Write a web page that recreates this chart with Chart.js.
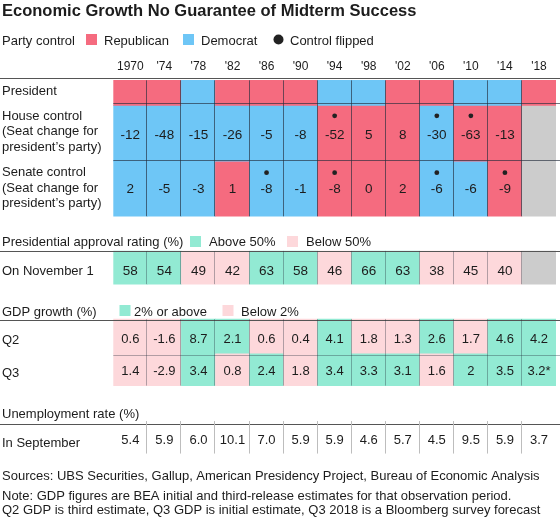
<!DOCTYPE html>
<html>
<head>
<meta charset="utf-8">
<script src="https://cdn.jsdelivr.net/npm/chart.js@4/dist/chart.umd.min.js"></script>
<style>
html, body { margin: 0; padding: 0; background: #fff; }
canvas { display: block; }
</style>
</head>
<body>
<canvas id="myChart" width="560" height="527"></canvas>
<script>
// ---- data ----
const years = ["1970", "'74", "'78", "'82", "'86", "'90", "'94", "'98", "'02", "'06", "'10", "'14", "'18"];
const presidentParty = ["R", "R", "D", "R", "R", "R", "D", "D", "R", "R", "D", "D", "R"];
const houseParty = ["D", "D", "D", "D", "D", "D", "R", "R", "R", "D", "R", "R", null];
const houseSeats = [-12, -48, -15, -26, -5, -8, -52, 5, 8, -30, -63, -13, null];
const houseFlipped = ["'94", "'06", "'10"];
const senateParty = ["D", "D", "D", "R", "D", "D", "R", "R", "R", "D", "D", "R", null];
const senateSeats = [2, -5, -3, 1, -8, -1, -8, 0, 2, -6, -6, -9, null];
const senateFlipped = ["'86", "'94", "'06", "'14"];
const approval = [58, 54, 49, 42, 63, 58, 46, 66, 63, 38, 45, 40, null];
const gdpQ2 = [0.6, -1.6, 8.7, 2.1, 0.6, 0.4, 4.1, 1.8, 1.3, 2.6, 1.7, 4.6, 4.2];
const gdpQ3 = [1.4, -2.9, 3.4, 0.8, 2.4, 1.8, 3.4, 3.3, 3.1, 1.6, 2, 3.5, 3.2];
const gdpQ3Note = [null, null, null, null, null, null, null, null, null, null, null, null, "*"];
const unemployment = [5.4, 5.9, 6.0, 10.1, 7.0, 5.9, 5.9, 4.6, 5.7, 4.5, 9.5, 5.9, 3.7];

// ---- look ----
const FONT = "'Liberation Sans', Arial, sans-serif";
const RED = "#f56b7f", BLUE = "#6ec6f6", GRAY = "#cccccc";
const GREEN = "#92ead3", PINK = "#fdd8db";
const INK = "#1c1c1c";
const LBL = 13;

// row extents in y-scale units (scale runs 0..527 top to bottom)
const rowBox = {
    president: [77.5, 103],
    house: [103, 159.5],
    senate: [159.5, 215.5],
    approval: [251, 284.5],
    q2: [320, 354.5],
    q3: [354.5, 387.5],
    jobs: [423.5, 456.5],
};

const partyColor = p => p === "R" ? RED : p === "D" ? BLUE : GRAY;

function rowSet(key, colors) {
    return {
        type: "bar",
        data: years.map(() => rowBox[key]),
        backgroundColor: colors,
        borderWidth: 0,
        barPercentage: 1,
        categoryPercentage: 1,
        grouped: false,
        order: 2,
    };
}

function dotSet(list, yy) {
    return {
        type: "line",
        data: list.map(yr => ({ x: yr, y: yy })),
        showLine: false,
        pointRadius: 2.4,
        pointBackgroundColor: "#222",
        pointBorderWidth: 0,
        order: 0,
    };
}

const tablePlugin = {
    id: "table",
    afterDatasetsDraw(chart) {
        const ctx = chart.ctx;
        const xs = chart.scales.x, ys = chart.scales.y;
        const w = xs.getPixelForValue(1) - xs.getPixelForValue(0);
        const left = i => xs.getPixelForValue(i) - w / 2;
        const W = chart.width;

        function hline(x0, x1, y, color) {
            ctx.strokeStyle = color;
            ctx.lineWidth = 1;
            ctx.beginPath();
            ctx.moveTo(x0, Math.round(y) + 0.5);
            ctx.lineTo(x1, Math.round(y) + 0.5);
            ctx.stroke();
        }
        function vlines(y0, y1, color) {
            ctx.strokeStyle = color;
            ctx.lineWidth = 1;
            for (let i = 1; i < years.length; i++) {
                const xx = Math.round(left(i)) - 0.5;
                ctx.beginPath();
                ctx.moveTo(xx, ys.getPixelForValue(y0));
                ctx.lineTo(xx, ys.getPixelForValue(y1));
                ctx.stroke();
            }
        }
        function text(str, x, y, size, weight, align) {
            ctx.font = (weight || "normal") + " " + size + "px " + FONT;
            ctx.textAlign = align || "left";
            ctx.textBaseline = "alphabetic";
            ctx.fillStyle = INK;
            ctx.fillText(str, x, y);
        }
        function cellText(vals, fmt, cy, size) {
            vals.forEach((v, i) => {
                if (v === null) return;
                text(fmt(v, i), xs.getPixelForValue(i), ys.getPixelForValue(cy) + size * 0.36, size, "normal", "center");
            });
        }
        function swatch(x, y, color) {
            ctx.fillStyle = color;
            ctx.fillRect(x, y, 11, 11);
        }

        const cellLine = "rgba(35,45,60,0.65)";
        const softLine = "rgba(35,45,60,0.35)";

        // grid lines
        hline(0, W, rowBox.president[0], "#555");
        vlines(rowBox.president[0], rowBox.senate[1], cellLine);
        hline(left(0), W, rowBox.house[0], cellLine);
        hline(left(0), W, rowBox.senate[0], cellLine);

        hline(0, W, rowBox.approval[0], "#555");
        vlines(rowBox.approval[0], rowBox.approval[1], softLine);

        hline(0, W, rowBox.q2[0], "#555");
        vlines(rowBox.q2[0], rowBox.q3[1], softLine);
        hline(left(0), W, rowBox.q3[0], softLine);

        hline(0, W, rowBox.jobs[0], "#555");
        vlines(rowBox.jobs[0], rowBox.jobs[1], "#bdbdbd");

        // title + legend
        text("Economic Growth No Guarantee of Midterm Success", 2, 16, 16.5, "bold");
        text("Party control", 2, 44.5, LBL);
        swatch(86, 34, RED);
        text("Republican", 104, 44.5, LBL);
        swatch(183, 34, BLUE);
        text("Democrat", 201, 44.5, LBL);
        ctx.fillStyle = "#222";
        ctx.beginPath();
        ctx.arc(278.5, 39.5, 5, 0, Math.PI * 2);
        ctx.fill();
        text("Control flipped", 290, 44.5, LBL);

        // year header
        years.forEach((yr, i) => text(yr, xs.getPixelForValue(i), 70, 12, "normal", "center"));

        // row labels
        text("President", 2, 95, LBL);
        text("House control", 2, 119.5, LBL);
        text("(Seat change for", 2, 135, LBL);
        text("president\u2019s party)", 2, 150.5, LBL);
        text("Senate control", 2, 176, LBL);
        text("(Seat change for", 2, 191.5, LBL);
        text("president\u2019s party)", 2, 207, LBL);

        cellText(houseSeats, v => String(v), 131.7, 13.5);
        cellText(senateSeats, v => String(v), 187.3, 13.5);

        text("Presidential approval rating (%)", 2, 246, LBL);
        swatch(190, 236, GREEN);
        text("Above 50%", 209, 246, LBL);
        swatch(287, 236, PINK);
        text("Below 50%", 306, 246, LBL);
        text("On November 1", 2, 275, LBL);
        cellText(approval, v => String(v), 270, 13.5);

        text("GDP growth (%)", 2, 315.5, LBL);
        swatch(119.5, 305, GREEN);
        text("2% or above", 134, 315.5, LBL);
        swatch(222.5, 305, PINK);
        text("Below 2%", 241, 315.5, LBL);
        text("Q2", 2, 344, LBL);
        text("Q3", 2, 376.5, LBL);
        cellText(gdpQ2, v => String(v), 339, 13);
        cellText(gdpQ3, (v, i) => String(v) + (gdpQ3Note[i] || ""), 371.7, 13);

        text("Unemployment rate (%)", 2, 417.5, LBL);
        text("In September", 2, 447, LBL);
        cellText(unemployment, v => v.toFixed(1), 442.3, 13);

        text("Sources: UBS Securities, Gallup, American Presidency Project, Bureau of Economic Analysis", 2, 480, 13);
        text("Note: GDP figures are BEA initial and third-release estimates for that observation period.", 2, 500, 13);
        text("Q2 GDP is third estimate, Q3 GDP is initial estimate, Q3 2018 is a Bloomberg survey forecast", 2, 513.5, 13);
    },
};

const ctx = document.getElementById("myChart").getContext("2d");

const myChart = new Chart(ctx, {
    type: "bar",
    data: {
        labels: years,
        datasets: [
            rowSet("president", presidentParty.map(partyColor)),
            rowSet("house", houseParty.map(partyColor)),
            rowSet("senate", senateParty.map(partyColor)),
            rowSet("approval", approval.map(v => v === null ? GRAY : v > 50 ? GREEN : PINK)),
            rowSet("q2", gdpQ2.map(v => v >= 2 ? GREEN : PINK)),
            rowSet("q3", gdpQ3.map(v => v >= 2 ? GREEN : PINK)),
            rowSet("jobs", years.map(() => "#ffffff")),
            dotSet(houseFlipped, 113.5),
            dotSet(senateFlipped, 171.3),
        ],
    },
    options: {
        responsive: false,
        animation: false,
        devicePixelRatio: 1,
        layout: { padding: { left: 113.3, right: 0.7, top: 0, bottom: 0 } },
        scales: {
            x: { display: false, offset: true },
            y: { display: false, min: 0, max: 527, reverse: true },
        },
        plugins: {
            legend: { display: false },
            tooltip: { enabled: false },
            title: { display: false },
        },
    },
    plugins: [tablePlugin],
});
</script>
</body>
</html>
